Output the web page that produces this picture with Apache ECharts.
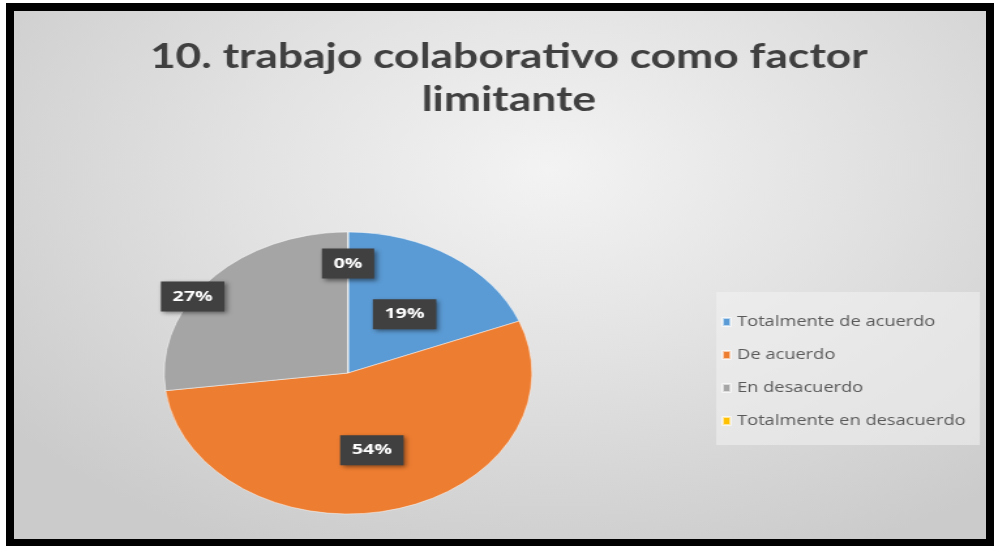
<!DOCTYPE html>
<html>
<head>
<meta charset="utf-8">
<script src="https://cdn.jsdelivr.net/npm/echarts@6/dist/echarts.min.js"></script>
<style>
  html, body { margin: 0; padding: 0; background: #ffffff; width: 994px; height: 546px; overflow: hidden; }
  #frame { position: absolute; left: 6px; top: 3px; width: 972px; height: 528px;
           border-style: solid; border-color: #000; border-width: 8px 8px 7px 8px;
           background: radial-gradient(ellipse 70% 80% at 55% 30%, #f3f3f3 0%, #e2e2e2 45%, #cbcbcb 100%); }
  #chart { position: absolute; left: 0; top: 0; width: 762px; height: 546px;
           transform: scaleX(1.3045); transform-origin: 0 0; }
</style>
</head>
<body>
<div id="frame"></div>
<div id="chart"></div>
<script>
const titleText = '10. trabajo colaborativo como factor\nlimitante';
const categories = ['Totalmente de acuerdo', 'De acuerdo', 'En desacuerdo', 'Totalmente en desacuerdo'];
const values = [19, 54, 27, 0];
const colors = ['#5B9BD5', '#ED7D31', '#A5A5A5', '#FFC000'];

const labelShift = [[2, 2], [0, 6], [-64, -28], [0, -36]];

const chart = echarts.init(document.getElementById('chart'), null, { renderer: 'canvas' });
chart.setOption({
  backgroundColor: 'transparent',
  animation: false,
  color: colors,
  title: {
    text: titleText,
    left: 385,
    top: 31,
    textAlign: 'center',
    textStyle: {
      fontFamily: "Lato, 'Open Sans', sans-serif",
      fontWeight: 'bold',
      fontSize: 34,
      lineHeight: 43,
      color: '#404040'
    }
  },
  legend: {
    orient: 'vertical',
    left: 549,
    top: 292,
    padding: [21, 11, 15, 4],
    backgroundColor: 'rgba(242,242,242,0.55)',
    itemWidth: 6,
    itemHeight: 8,
    itemGap: 15,
    icon: 'rect',
    data: categories,
    textStyle: {
      fontFamily: "'Open Sans', sans-serif",
      fontSize: 14,
      lineHeight: 18,
      color: '#595959'
    }
  },
  series: [{
    type: 'pie',
    center: [266.8, 373],
    radius: 141,
    startAngle: 90,
    clockwise: true,
    percentPrecision: 0,
    data: categories.map((c, i) => ({ name: c, value: values[i] })),
    itemStyle: { borderColor: 'rgba(255,255,255,0.6)', borderWidth: 0.8 },
    label: {
      show: true,
      position: 'inside',
      formatter: '{d}%',
      fontFamily: "'Open Sans', sans-serif",
      fontWeight: 'bold',
      fontSize: 15,
      lineHeight: 18,
      color: '#ffffff',
      backgroundColor: '#404040',
      padding: [6, 9, 6, 9],
      shadowColor: 'rgba(0,0,0,0.45)',
      shadowBlur: 4,
      shadowOffsetX: 2,
      shadowOffsetY: 2
    },
    labelLine: { show: false },
    labelLayout: function (p) {
      const s = labelShift[p.dataIndex] || [0, 0];
      return { dx: s[0], dy: s[1] };
    },
    emphasis: { disabled: true }
  }]
});
</script>
</body>
</html>
